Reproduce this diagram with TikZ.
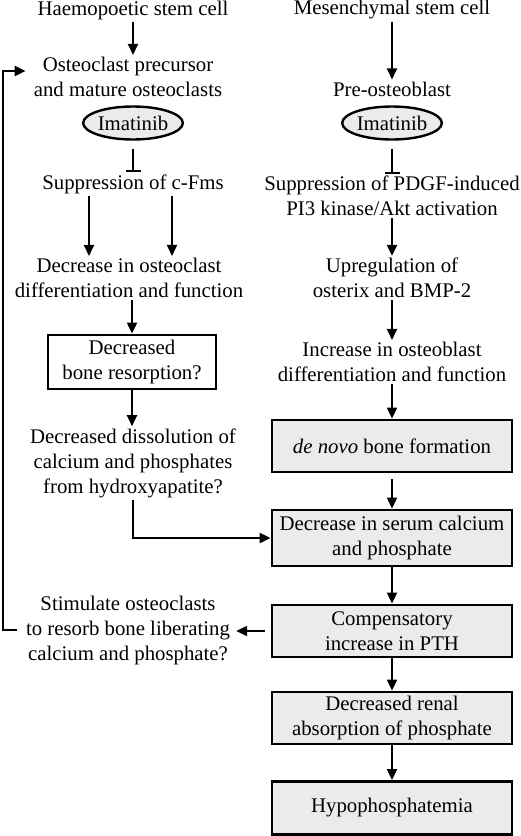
\documentclass[tikz,border=0pt]{standalone}
\usepackage{fontspec}
\setmainfont{Liberation Serif}
\usetikzlibrary{arrows.meta,shapes.geometric,calc}
\begin{document}
\begin{tikzpicture}[x=1pt,y=-1pt,
  txt/.style={align=center,inner sep=2pt,font=\fontsize{20.8}{25}\selectfont},
  gbox/.style={txt,draw,line width=2.8pt,fill=black!8,minimum width=240pt,inner sep=4pt},
  wbox/.style={txt,draw,line width=2.8pt,fill=white,minimum width=168pt,inner sep=4pt},
  drug/.style={ellipse,draw,line width=2.4pt,fill=black!8,minimum width=89pt,minimum height=33pt,inner sep=0pt,font=\fontsize{20.8}{25}\selectfont},
  arr/.style={line width=2pt,-{Triangle[length=11pt,width=10pt]}},
  inh/.style={line width=2pt,-{Bar[width=15pt,line width=2.2pt]},shorten <=8pt},
  fb/.style={line width=2.4pt,-{Triangle[length=11pt,width=10pt]}}]
\useasboundingbox (0,0) rectangle (520,836);
% left column
\node[txt] (L1) at (133,10) {Haemopoetic stem cell};
\node[txt] (L2) at (128,77) {Osteoclast precursor\\and mature osteoclasts};
\node[drug] (IL) at (133,123) {Imatinib};
\node[txt] (L3) at (133,184) {Suppression of c-Fms};
\node[txt] (L4) at (129,278) {Decrease in osteoclast\\differentiation and function};
\node[wbox,minimum height=54pt] (L5) at (132,362) {Decreased\\bone resorption?};
\node[txt] (L6) at (133,463) {Decreased dissolution of\\calcium and phosphates\\from hydroxyapatite?};
\node[txt] (L7) at (128,630) {Stimulate osteoclasts\\to resorb bone liberating\\calcium and phosphate?};
% right column
\node[txt] (R1) at (392,10) {Mesenchymal stem cell};
\node[txt] (R2) at (392,89) {Pre-osteoblast};
\node[drug] (IR) at (392,123) {Imatinib};
\node[txt] (R3) at (392,196) {Suppression of PDGF-induced\\PI3 kinase/Akt activation};
\node[txt] (R4) at (392,278) {Upregulation of\\osterix and BMP-2};
\node[txt] (R5) at (392,362) {Increase in osteoblast\\differentiation and function};
\node[gbox,minimum height=52pt] (R6) at (392,446) {\textit{de novo} bone formation};
\node[gbox,minimum height=56pt] (R7) at (392,538) {Decrease in serum calcium\\and phosphate};
\node[gbox,minimum height=52pt] (R8) at (392,631) {Compensatory\\increase in PTH};
\node[gbox,minimum height=52pt] (R9) at (392,718) {Decreased renal\\absorption of phosphate};
\node[gbox,minimum height=53pt] (R10) at (392,808) {Hypophosphatemia};
\coordinate (fbbot) at (3,630);
\coordinate (fbtop) at (3,71);
% left connectors
\draw[arr] (L1.south) -- (L1.south |- L2.north);
\draw[inh] (IL.south) -- (L3.north);
\draw[arr] ([xshift=-44pt]L3.south) -- ([xshift=-44pt]L3.south |- L4.north);
\draw[arr] ([xshift=39pt]L3.south) -- ([xshift=39pt]L3.south |- L4.north);
\draw[arr] (L4.south -| L5.north) -- (L5.north);
\draw[arr] (L5.south) -- (L5.south |- L6.north);
\draw[arr] (L6.south) |- (R7.west);
\draw[arr,shorten <=6pt,shorten >=4pt] (R8.west) -- (R8.west -| L7.east);
\draw[fb] ([xshift=-7pt]L7.west |- fbbot) -- (fbbot) -- (fbtop) -- ([xshift=-6pt]fbtop -| L2.west);
% right connectors
\draw[arr] (R1.south) -- (R2.north);
\draw[inh] (IR.south) -- (R3.north);
\draw[arr] (R3.south) -- (R4.north);
\draw[arr] (R4.south) -- (R5.north);
\draw[arr] (R5.south) -- (R6.north);
\draw[arr,shorten <=6pt] (R6.south) -- (R7.north);
\draw[arr] (R7.south) -- (R8.north);
\draw[arr] (R8.south) -- (R9.north);
\draw[arr] (R9.south) -- (R10.north);
\end{tikzpicture}
\end{document}
